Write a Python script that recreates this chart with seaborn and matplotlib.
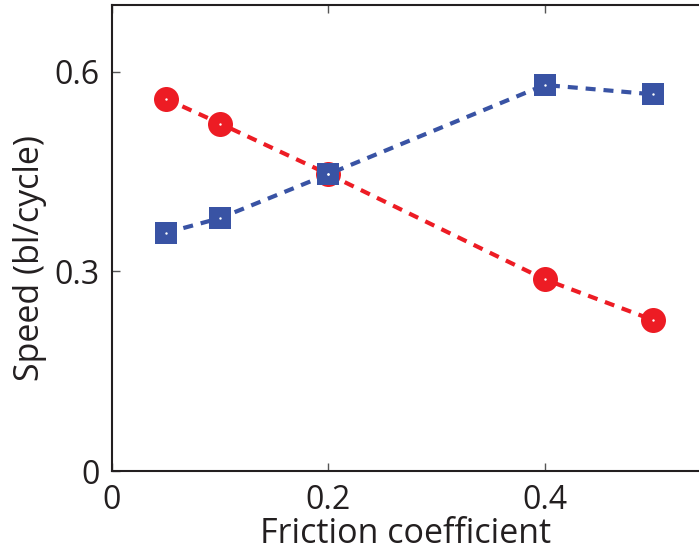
import numpy as np
import pandas as pd
import matplotlib
matplotlib.use("Agg")
import matplotlib.pyplot as plt
import seaborn as sns

# values
friction = [0.05, 0.1, 0.2, 0.4, 0.5]
speed_red = [0.559, 0.522, 0.446, 0.288, 0.227]
speed_blue = [0.358, 0.380, 0.446, 0.580, 0.566]

x_ticks = [0, 0.2, 0.4]
x_ticklabels = ["0", "0.2", "0.4"]
y_ticks = [0, 0.3, 0.6]
y_ticklabels = ["0", "0.3", "0.6"]

red = "#ED1C24"
blue = "#3953A4"
ink = "#231F20"

sns.set_style("ticks")
plt.rcParams['font.family'] = ['Open Sans', 'DejaVu Sans']

fig = plt.figure(figsize=(6.99, 5.54), dpi=100)
# axes run past the right edge of the figure, as in the cropped original
ax = fig.add_axes([0.1602, 0.1498, 0.851, 0.841])

df_red = pd.DataFrame({"friction": friction, "speed": speed_red})
df_blue = pd.DataFrame({"friction": friction, "speed": speed_blue})

dash = (0, (2.4, 1.9))
sns.lineplot(data=df_red, x="friction", y="speed", ax=ax, color=red,
             linestyle=dash, linewidth=3, marker="o",
             markersize=18, markeredgewidth=0, zorder=3)
sns.lineplot(data=df_blue, x="friction", y="speed", ax=ax, color=blue,
             linestyle=dash, linewidth=3, marker="s",
             markersize=15.5, markeredgewidth=0, zorder=4)
# tiny white centre dots
sns.scatterplot(data=df_red, x="friction", y="speed", ax=ax, color="white",
                s=3, linewidth=0, zorder=5)
sns.scatterplot(data=df_blue, x="friction", y="speed", ax=ax, color="white",
                s=3, linewidth=0, zorder=5)

ax.set_xlim(0, 0.55)
ax.set_ylim(0, 0.7)
ax.set_xticks(x_ticks)
ax.set_xticklabels(x_ticklabels)
ax.set_yticks(y_ticks)
ax.set_yticklabels(y_ticklabels)
ax.tick_params(direction="in", top=True, right=False, length=6, width=1,
               labelsize=23, labelcolor=ink, color="#555555")
ax.tick_params(axis="x", pad=9)
ax.tick_params(axis="y", pad=9)
for s in ax.spines.values():
    s.set_linewidth(1.5)
    s.set_color(ink)

ax.set_xlabel("Friction coefficient", fontsize=24.5, color=ink)
ax.set_ylabel("Speed (bl/cycle)", fontsize=24.5, color=ink)
ax.xaxis.set_label_coords(0.494, -0.098)
ax.yaxis.set_label_coords(-0.110, 0.457)

fig.savefig("out.png", dpi=100)
